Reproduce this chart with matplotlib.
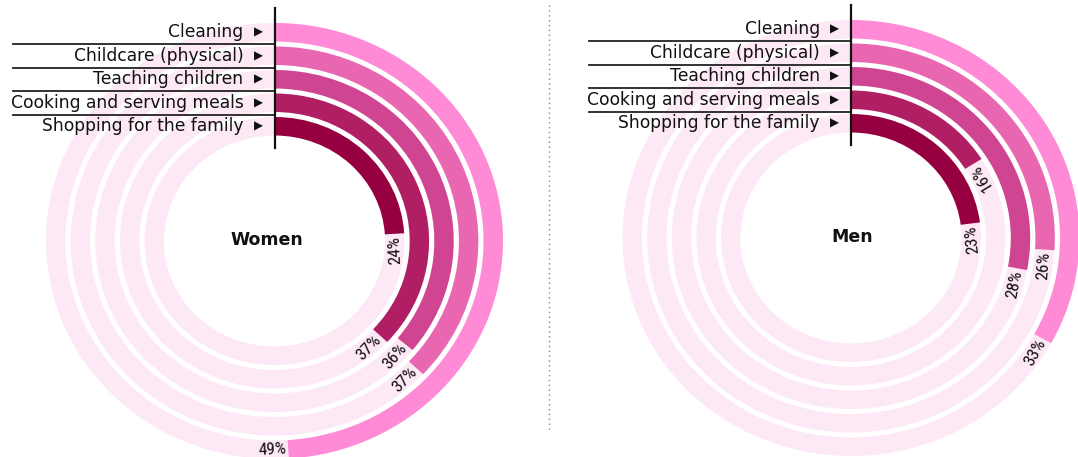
import numpy as np
import matplotlib
matplotlib.use("Agg")
import matplotlib.pyplot as plt
from matplotlib.patches import Wedge

# data
categories = ["Cleaning", "Childcare (physical)", "Teaching children",
              "Cooking and serving meals", "Shopping for the family"]
women = [49, 37, 36, 37, 24]
men = [33, 26, 28, 16, 23]

colors = ["#ff8ad6", "#e867b0", "#cf4592", "#b01f64", "#960040"]
bg_color = "#fde8f5"

W, H = 1078, 457
SX = 1.048  # the rings are a bit wider than tall

fig = plt.figure(figsize=(W / 100, H / 100), dpi=100)
ax = fig.add_axes([0, 0, 1, 1])
ax.set_xlim(0, W / SX)
ax.set_ylim(0, H)
ax.axis("off")

r_out = [218, 194.5, 171, 147.5, 124]
ring_w = 18.5

pct_font = ["Roboto Condensed", "Liberation Sans Narrow",
            "DejaVu Sans Condensed", "DejaVu Sans"]


def donut(cx_px, cy_img, values, title, title_x):
    cx = cx_px / SX
    cy = H - cy_img
    for i, v in enumerate(values):
        r = r_out[i]
        ax.add_patch(Wedge((cx, cy), r, 0, 360, width=ring_w,
                           color=bg_color, lw=0))
        ang = 3.6 * v
        ax.add_patch(Wedge((cx, cy), r, 90 - ang, 90, width=ring_w,
                           color=colors[i], lw=0))
        # percent label just after the end of the arc
        rm = r - ring_w / 2
        th = ang + np.degrees(2.0 / rm)
        phi = np.radians(90 - th)
        ax.text(cx + rm * np.cos(phi), cy + rm * np.sin(phi), f"{v}%",
                rotation=180 - th, rotation_mode="anchor",
                ha="right", va="center", fontsize=12.5,
                family=pct_font, color="#111111")
        # category label on the left
        ax.text((cx_px - 31) / SX, cy + rm, categories[i], ha="right",
                va="center", fontsize=12.3, family="DejaVu Sans",
                color="#111111")
        ax.text((cx_px - 12) / SX, cy + rm, "\u25B6", ha="right",
                va="center", fontsize=8.5, family="DejaVu Sans",
                color="#111111")
        if i < len(values) - 1:
            yl = cy + (r - ring_w + r_out[i + 1]) / 2
            ax.plot([(cx_px - 262) / SX, cx], [yl, yl],
                    color="#222222", lw=1.3)
    ax.plot([cx, cx], [cy + r_out[0] + 15, cy + r_out[-1] - 31],
            color="#111111", lw=1.6)
    ax.text(title_x / SX, cy + 1, title, ha="center", va="center",
            fontsize=12.5, fontweight="bold", color="#111111")


donut(274.5, 241, women, "Women", 267)
donut(851, 238, men, "Men", 852)

# dotted separator
ax.plot([549 / SX, 549 / SX], [H - 5, H - 432], color="#888888", lw=1,
        linestyle=(0, (1, 2.5)))

fig.savefig("out.png", dpi=100)
